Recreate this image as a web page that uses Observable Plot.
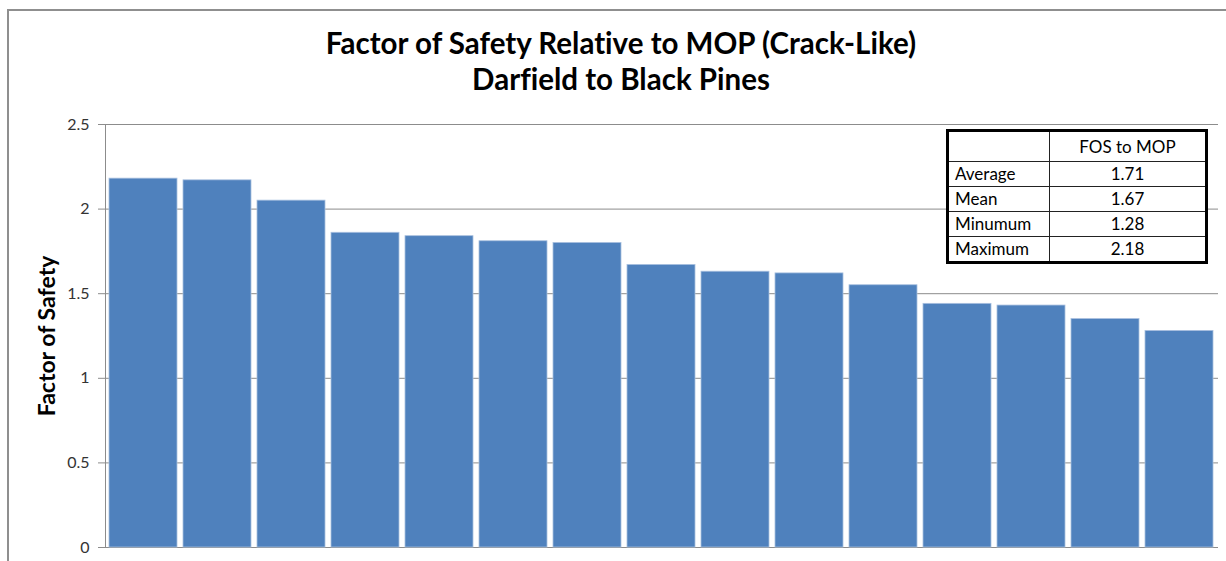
<!DOCTYPE html>
<html>
<head>
<meta charset="utf-8">
<script src="https://cdn.jsdelivr.net/npm/d3@7"></script>
<script src="https://cdn.jsdelivr.net/npm/@observablehq/plot@0.6"></script>
<style>
  body { margin: 0; background: #fff; }
  #chart { position: relative; width: 1226px; height: 561px; overflow: hidden; font-family: Lato, "Open Sans", sans-serif; color: #000; font-variant-ligatures: none; }
  #frame { position: absolute; left: 7px; top: 9px; width: 1300px; height: 700px; border: 2px solid #8f8f8f; box-sizing: border-box; }
  #title { position: absolute; left: 0; width: 1242px; top: 25px; text-align: center; font-weight: bold; font-size: 29.5px; line-height: 36px; }
  #plot { position: absolute; left: 0; top: 0; }
  #stats { position: absolute; left: 946px; top: 129px; border-collapse: collapse; border: 3px solid #000; font-size: 17px; background: #fff; }
  #stats td { border: 1px solid #222; padding: 0 0 0 6px; height: 24px; line-height: 24px; }
  #stats td.v { text-align: center; padding: 0; }
  #stats tr.head td { height: 29px; }
</style>
</head>
<body>
<div id="chart">
  <div id="frame"></div>
  <div id="title">Factor of Safety Relative to MOP (Crack-Like)<br>Darfield to Black Pines</div>
  <div id="plot"></div>
  <table id="stats"></table>
</div>
<script>
// Pipeline segments, ordered from highest to lowest factor of safety
const segments = [1, 2, 3, 4, 5, 6, 7, 8, 9, 10, 11, 12, 13, 14, 15];
const fos = [2.18, 2.17, 2.05, 1.86, 1.84, 1.81, 1.80, 1.67, 1.63, 1.62, 1.55, 1.44, 1.43, 1.35, 1.28];
const yTicks = [0, 0.5, 1, 1.5, 2, 2.5];
const statHeader = "FOS to MOP";
const statLabels = ["Average", "Mean", "Minumum", "Maximum"];

const rows = segments.map((s, i) => ({segment: s, fos: fos[i]}));

const gridColor = "#8c8c8c";

const chart = Plot.plot({
  width: 1226,
  height: 561,
  marginTop: 124,
  marginBottom: 14,
  marginLeft: 105,
  marginRight: 8,
  style: {fontFamily: "Lato, 'Open Sans', sans-serif", fontSize: "16px", background: "transparent", fontVariantLigatures: "none"},
  x: {domain: segments, axis: null, paddingInner: 0.08, paddingOuter: 0.03},
  y: {domain: [0, 2.5], axis: null},
  marks: [
    Plot.gridY(yTicks, {stroke: gridColor, strokeOpacity: 1}),
    Plot.frame({anchor: "left", stroke: gridColor}),
    Plot.axisY(yTicks, {
      tickSize: 7,
      tickPadding: 9,
      stroke: gridColor,
      fill: "#333",
      fontSize: 16,
      tickFormat: d => String(d),
      label: null
    }),
    Plot.barY(rows, {x: "segment", y: "fos", fill: "#4F81BD", stroke: "#a9c0df", strokeWidth: 0.8}),
    Plot.text(["Factor of Safety"], {
      frameAnchor: "left",
      textAnchor: "middle",
      dx: -58,
      rotate: -90,
      fontSize: 23,
      fontWeight: "bold",
      fill: "#000"
    })
  ]
});
document.getElementById("plot").append(chart);

// Summary table of the plotted values
const stats = [d3.mean(fos), d3.median(fos), d3.min(fos), d3.max(fos)];
const table = d3.select("#stats");
const head = table.append("tr").attr("class", "head");
head.append("td").style("width", "94px");
head.append("td").attr("class", "v").style("width", "155px").text(statHeader);
statLabels.forEach((label, i) => {
  const tr = table.append("tr");
  tr.append("td").text(label);
  tr.append("td").attr("class", "v").text(stats[i].toFixed(2));
});
</script>
</body>
</html>
